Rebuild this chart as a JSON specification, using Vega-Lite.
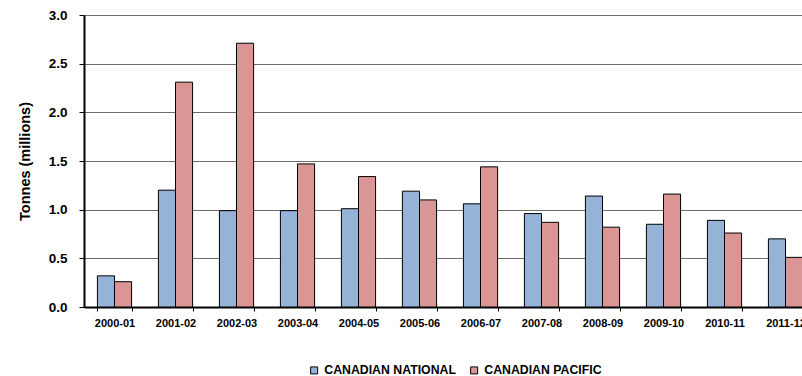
{
  "$schema": "https://vega.github.io/schema/vega-lite/v6.json",
  "width": 732,
  "height": 292,
  "autosize": {"type": "none"},
  "padding": {"left": 84, "top": 15, "right": 0, "bottom": 69},
  "background": "white",
  "config": {
    "view": {"stroke": null},
    "font": "Liberation Sans"
  },
  "data": {
    "values": [
      {"season": "2000-01", "railway": "CANADIAN NATIONAL", "tonnes": 0.32},
      {"season": "2000-01", "railway": "CANADIAN PACIFIC", "tonnes": 0.26},
      {"season": "2001-02", "railway": "CANADIAN NATIONAL", "tonnes": 1.2},
      {"season": "2001-02", "railway": "CANADIAN PACIFIC", "tonnes": 2.31},
      {"season": "2002-03", "railway": "CANADIAN NATIONAL", "tonnes": 0.99},
      {"season": "2002-03", "railway": "CANADIAN PACIFIC", "tonnes": 2.71},
      {"season": "2003-04", "railway": "CANADIAN NATIONAL", "tonnes": 0.99},
      {"season": "2003-04", "railway": "CANADIAN PACIFIC", "tonnes": 1.47},
      {"season": "2004-05", "railway": "CANADIAN NATIONAL", "tonnes": 1.01},
      {"season": "2004-05", "railway": "CANADIAN PACIFIC", "tonnes": 1.34},
      {"season": "2005-06", "railway": "CANADIAN NATIONAL", "tonnes": 1.19},
      {"season": "2005-06", "railway": "CANADIAN PACIFIC", "tonnes": 1.1},
      {"season": "2006-07", "railway": "CANADIAN NATIONAL", "tonnes": 1.06},
      {"season": "2006-07", "railway": "CANADIAN PACIFIC", "tonnes": 1.44},
      {"season": "2007-08", "railway": "CANADIAN NATIONAL", "tonnes": 0.96},
      {"season": "2007-08", "railway": "CANADIAN PACIFIC", "tonnes": 0.87},
      {"season": "2008-09", "railway": "CANADIAN NATIONAL", "tonnes": 1.14},
      {"season": "2008-09", "railway": "CANADIAN PACIFIC", "tonnes": 0.82},
      {"season": "2009-10", "railway": "CANADIAN NATIONAL", "tonnes": 0.85},
      {"season": "2009-10", "railway": "CANADIAN PACIFIC", "tonnes": 1.16},
      {"season": "2010-11", "railway": "CANADIAN NATIONAL", "tonnes": 0.89},
      {"season": "2010-11", "railway": "CANADIAN PACIFIC", "tonnes": 0.76},
      {"season": "2011-12", "railway": "CANADIAN NATIONAL", "tonnes": 0.7},
      {"season": "2011-12", "railway": "CANADIAN PACIFIC", "tonnes": 0.51}
    ]
  },
  "mark": {"type": "bar", "stroke": "#000000", "strokeWidth": 1},
  "encoding": {
    "x": {
      "field": "season",
      "type": "nominal",
      "sort": null,
      "scale": {"paddingInner": 0.44, "paddingOuter": 0.22},
      "axis": {
        "title": null,
        "labelAngle": 0,
        "labelFont": "Liberation Sans",
        "labelFontWeight": "bold",
        "labelFontSize": 11,
        "labelColor": "#000000",
        "labelPadding": 6,
        "tickBand": "extent",
        "tickColor": "#000000",
        "tickSize": 4,
        "domainColor": "#000000",
        "domainWidth": 2,
        "grid": false
      }
    },
    "xOffset": {"field": "railway", "type": "nominal", "scale": {"paddingInner": 0}},
    "y": {
      "field": "tonnes",
      "type": "quantitative",
      "scale": {"domain": [0, 3], "nice": false},
      "axis": {
        "title": "Tonnes (millions)",
        "titleFont": "Liberation Sans",
        "titleFontWeight": "bold",
        "titleFontSize": 14.5,
        "titleColor": "#000000",
        "titlePadding": 16,
        "values": [0, 0.5, 1, 1.5, 2, 2.5, 3],
        "format": ".1f",
        "labelFont": "Liberation Sans",
        "labelFontWeight": "bold",
        "labelFontSize": 13.5,
        "labelColor": "#000000",
        "labelPadding": 12,
        "tickColor": "#000000",
        "tickSize": 5,
        "domainColor": "#000000",
        "domainWidth": 2,
        "gridColor": "#6e6e6e",
        "gridWidth": 1
      }
    },
    "color": {
      "field": "railway",
      "type": "nominal",
      "scale": {"domain": ["CANADIAN NATIONAL", "CANADIAN PACIFIC"], "range": ["#95B3D7", "#D99694"]},
      "legend": {
        "title": null,
        "orient": "none",
        "legendX": 224,
        "legendY": 349,
        "direction": "horizontal",
        "symbolType": "square",
        "symbolSize": 49,
        "symbolStrokeColor": "#000000",
        "symbolStrokeWidth": 1,
        "labelFont": "Liberation Sans",
        "labelFontWeight": "bold",
        "labelFontSize": 12.3,
        "labelColor": "#000000",
        "labelOffset": 4,
        "columnPadding": 12,
        "labelLimit": 300
      }
    }
  }
}
